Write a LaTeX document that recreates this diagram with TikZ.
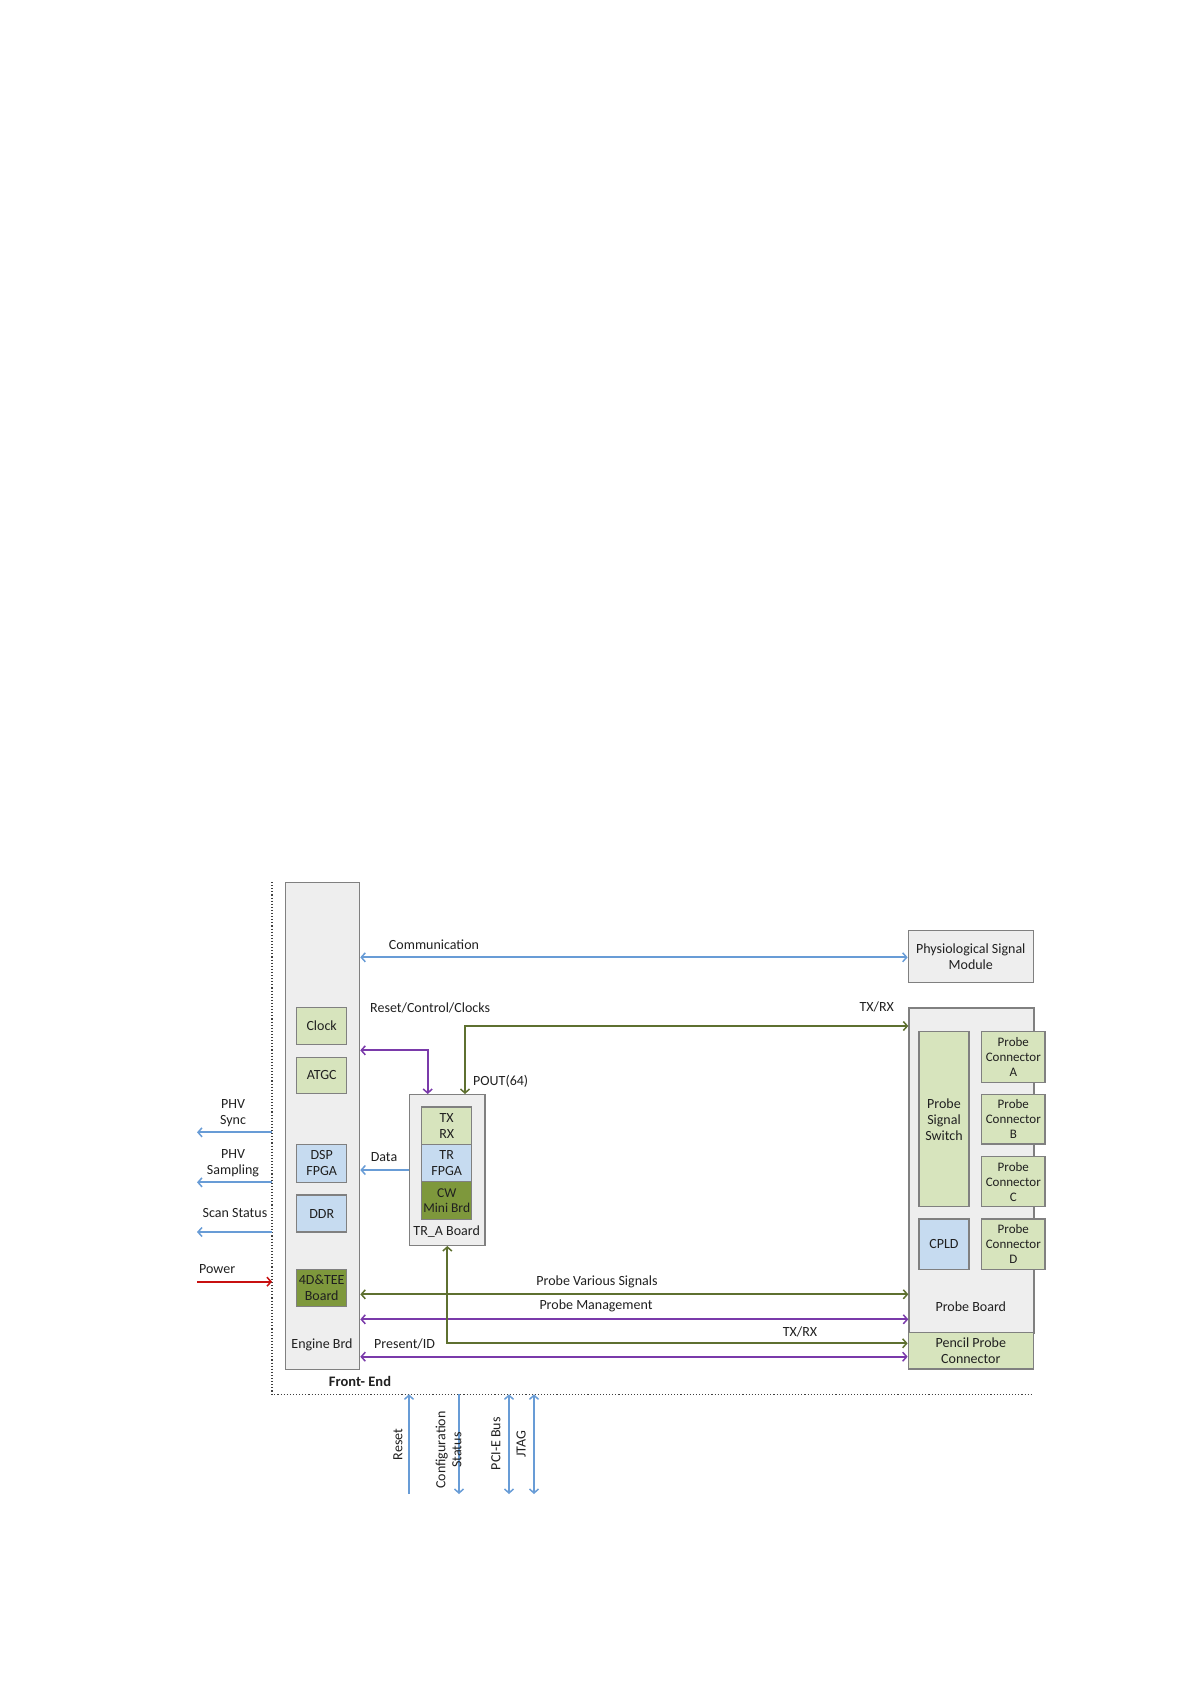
\documentclass[tikz,border=0pt]{standalone}
\usepackage{fontspec}
\setmainfont{Carlito}
\usetikzlibrary{arrows.meta}
\definecolor{cblue}{RGB}{104,156,214}
\definecolor{colive}{RGB}{94,112,48}
\definecolor{cpurple}{RGB}{122,58,170}
\definecolor{cred}{RGB}{200,16,16}
\definecolor{lgreen}{RGB}{215,228,189}
\definecolor{lblue}{RGB}{198,219,240}
\definecolor{dolive}{RGB}{126,152,60}
\definecolor{board}{RGB}{238,238,238}
\definecolor{bord}{RGB}{128,128,128}
\definecolor{txt}{RGB}{32,32,32}
\tikzset{
  every node/.style={text=txt,font=\fontsize{14}{16}\selectfont,inner sep=0pt},
  brd/.style={draw=bord,fill=board,line width=1.3pt},
  gbox/.style={draw=bord,fill=lgreen,line width=1.3pt},
  bbox/.style={draw=bord,fill=lblue,line width=1.3pt},
  obox/.style={draw=bord,fill=dolive,line width=1.3pt},
  lbl/.style={align=center},
  sm/.style={font=\fontsize{13}{15}\selectfont,align=center},
  bl/.style={draw=cblue,line width=1.8pt},
  ol/.style={draw=colive,line width=1.8pt},
  pl/.style={draw=cpurple,line width=1.8pt},
  rl/.style={draw=cred,line width=1.8pt},
  >={Straight Barb[length=4pt,width=9pt,line width=1.5pt]},
  frame/.style={draw=black!75,line width=1.1pt,dotted}
}
\begin{document}
\begin{tikzpicture}[x=1pt,y=-1pt]
\useasboundingbox (0,0) rectangle (1191,1684);
% dotted frame
\coordinate (fTop) at (272,882);
\coordinate (fCorner) at (272,1394.3);
\coordinate (fRight) at (1033,1394.3);
\draw[frame] (fTop) -- (fCorner) -- (fRight);
% engine board
\node[brd,minimum width=74pt,minimum height=487pt,anchor=north west] (eng) at (285,882) {};
\node (engl) at (322,1345) {Engine Brd};
\node[gbox,minimum width=50pt,minimum height=37pt] (clock) at (321.7,1025.7) {Clock};
\node[gbox,minimum width=50pt,minimum height=36pt] (atgc) at (321.7,1075.2) {ATGC};
\node[bbox,minimum width=50pt,minimum height=38pt,lbl] (dsp) at (321.7,1163.3) {DSP\\FPGA};
\node[bbox,minimum width=50pt,minimum height=37pt] (ddr) at (321.7,1213.5) {DDR};
\node[obox,minimum width=50pt,minimum height=37pt,lbl] (tee) at (321.7,1288) {4D\&TEE\\Board};
\node[font=\fontsize{14.5}{16}\selectfont\bfseries] (fe) at (360,1381.5) {Front- End};
% TR_A board
\node[brd,minimum width=75.3pt,minimum height=150.7pt,anchor=north west] (tra) at (409,1094) {};
\node[gbox,minimum width=50pt,minimum height=37.3pt,lbl] (txrx) at (446.7,1125.7) {TX\\RX};
\node[bbox,minimum width=50pt,minimum height=37.4pt,lbl] (trf) at (446.7,1163) {TR\\FPGA};
\node[obox,minimum width=50pt,minimum height=37.6pt,lbl,font=\fontsize{13.5}{15.5}\selectfont] (cw) at (446.7,1200.5) {CW\\Mini Brd};
\node (tral) at (446.7,1232) {TR\_A Board};
% physiological
\node[brd,minimum width=125pt,minimum height=51.6pt,lbl] (psm) at (970.8,956.5) {Physiological Signal\\Module};
% probe board
\node[brd,minimum width=125pt,minimum height=325pt,anchor=north west] (pb) at (908.3,1007.3) {};
\node (pbl) at (970.8,1306.7) {Probe Board};
\node[gbox,minimum width=125pt,minimum height=36.7pt,lbl] (ppc) at (970.8,1350.7) {Pencil Probe\\Connector};
\node[gbox,minimum width=50pt,minimum height=175pt,lbl] (pss) at (944,1119.2) {Probe\\Signal\\Switch};
\node[bbox,minimum width=50pt,minimum height=50.3pt] (cpld) at (944,1244.2) {CPLD};
\node[gbox,minimum width=63.3pt,minimum height=50.6pt,sm] (pca) at (1013.3,1057) {Probe\\Connector\\A};
\node[gbox,minimum width=63.3pt,minimum height=49.7pt,sm] (pcb) at (1013.3,1119.2) {Probe\\Connector\\B};
\node[gbox,minimum width=63.3pt,minimum height=50pt,sm] (pcc) at (1013.3,1181.7) {Probe\\Connector\\C};
\node[gbox,minimum width=63.3pt,minimum height=50.3pt,sm] (pcd) at (1013.3,1244.2) {Probe\\Connector\\D};
% level coordinates
\coordinate (yComm) at (0,957.3);
\coordinate (yRC) at (0,1050.3);
\coordinate (xRC) at (427.7,0);
\coordinate (yTX1) at (0,1026);
\coordinate (xPout) at (465,0);
\coordinate (yData) at (0,1170);
\coordinate (yPVS) at (0,1294.3);
\coordinate (yPM) at (0,1319.3);
\coordinate (yTX2) at (0,1343.3);
\coordinate (yPID) at (0,1356.7);
% connectors
\draw[bl,<->] (eng.east |- yComm) -- (psm.west |- yComm);
\node[anchor=south] (lcomm) at (434,950) {Communication};
\draw[pl,<->] (eng.east |- yRC) -| (tra.north -| xRC);
\node[anchor=west] (lrc) at (370,1008) {Reset/Control/Clocks};
\draw[ol,<->] (tra.north -| xPout) |- (pb.west |- yTX1);
\node (ltx1) at (876.7,1006.7) {TX/RX};
\node[anchor=west] (lpout) at (473,1081.7) {POUT(64)};
\draw[bl,->] (tra.west |- yData) -- (eng.east |- yData);
\node (ldata) at (384,1156.7) {Data};
\draw[ol,<->] (eng.east |- yPVS) -- (pb.west |- yPVS);
\node (lpvs) at (597,1282.3) {Probe Various Signals};
\draw[pl,<->] (eng.east |- yPM) -- (pb.west |- yPM);
\node (lpm) at (596,1306) {Probe Management};
\draw[ol,<->] (tra.south) |- (ppc.west |- yTX2);
\node (ltx2) at (800,1331.7) {TX/RX};
\draw[pl,<->] (eng.east |- yPID) -- (ppc.west |- yPID);
\node[anchor=west] (lpid) at (374,1344) {Present/ID};
% left side signals
\coordinate (eSync) at (197,1132.3);
\coordinate (eSamp) at (197,1182.3);
\coordinate (eScan) at (197,1232);
\coordinate (ePow) at (197,1281.7);
\draw[bl,->] (fTop |- eSync) -- (eSync);
\node[lbl] (lsync) at (233,1113.5) {PHV\\Sync};
\draw[bl,->] (fTop |- eSamp) -- (eSamp);
\node[lbl] (lsamp) at (233,1163.5) {PHV\\Sampling};
\draw[bl,->] (fTop |- eScan) -- (eScan);
\node (lscan) at (235,1212.7) {Scan Status};
\draw[rl,->] (ePow) -- (fTop |- ePow);
\node[anchor=west] (lpow) at (199,1269) {Power};
% bottom signals
\coordinate (bReset) at (409,1494);
\coordinate (bConf) at (459,1494);
\coordinate (bPci) at (509,1494);
\coordinate (bJtag) at (534,1494);
\draw[bl,->] (bReset) -- (bReset |- fCorner);
\draw[bl,->] (bConf |- fCorner) -- (bConf);
\draw[bl,<->] (bPci |- fCorner) -- (bPci);
\draw[bl,<->] (bJtag |- fCorner) -- (bJtag);
\node[rotate=90] (lreset) at (398,1444.5) {Reset};
\node[rotate=90,lbl] (lconf) at (448.7,1450) {Configuration\\Status};
\node[rotate=90] (lpci) at (496,1443.7) {PCI-E Bus};
\node[rotate=90] (ljtag) at (521,1444) {JTAG};
\end{tikzpicture}
\end{document}
